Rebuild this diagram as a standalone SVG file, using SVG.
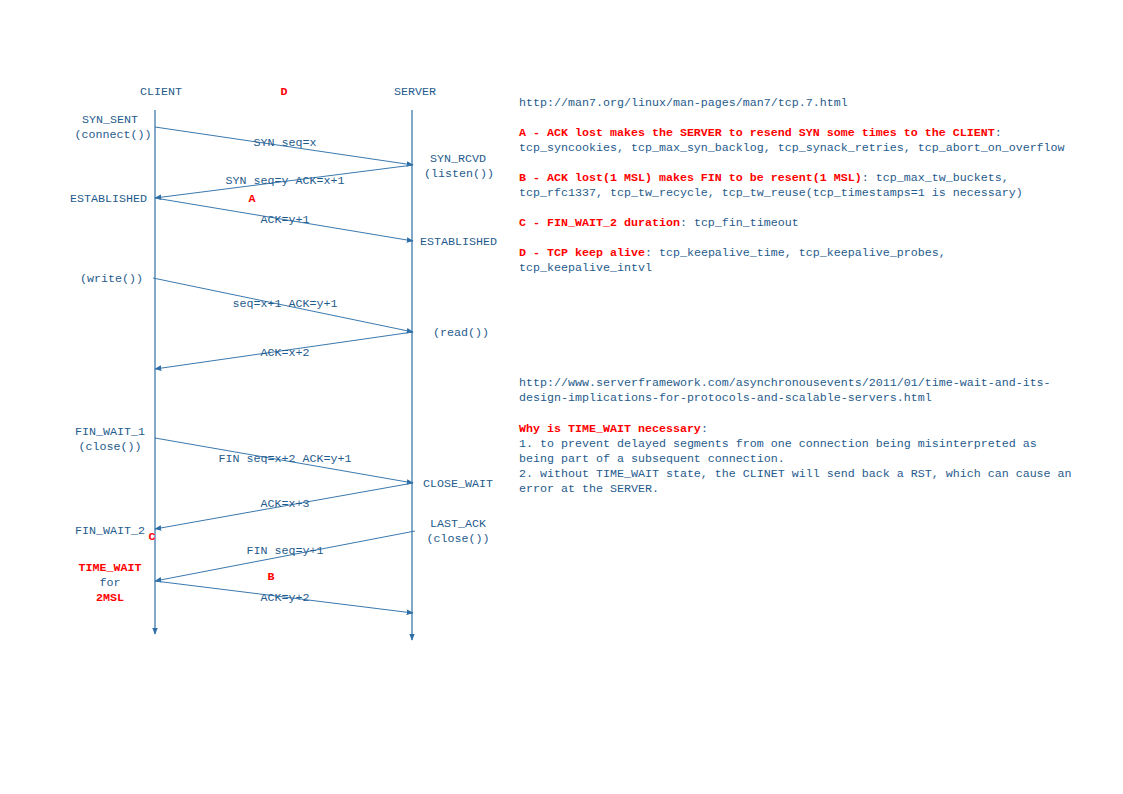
<svg xmlns="http://www.w3.org/2000/svg" width="1123" height="794" viewBox="0 0 1123 794">
<defs>
<marker id="ah" viewBox="0 0 10 10" refX="9" refY="5" markerWidth="7" markerHeight="7" orient="auto" markerUnits="userSpaceOnUse">
<path d="M0,1 L10,5 L0,9 z" fill="#2f6fa5"/>
</marker>
<style>
text{font-family:"Liberation Mono","DejaVu Sans Mono",monospace;font-size:11.67px;fill:#1f5b8c;}
.c{text-anchor:middle;}
.r{fill:#ff0000;font-weight:bold;}
.ln{stroke:#2f6fa5;stroke-width:1.2;fill:none;}
.ar{stroke:#3a78ae;stroke-width:1;fill:none;marker-end:url(#ah);}
</style>
</defs>
<rect width="1123" height="794" fill="#ffffff"/>
<g id="client">
<text class="c" x="161" y="95">CLIENT</text>
<line class="ln" x1="155" y1="110" x2="155" y2="634" marker-end="url(#ah)"/>
</g>
<g id="server">
<text class="c" x="415" y="95">SERVER</text>
<line class="ln" x1="412" y1="110" x2="412" y2="640" marker-end="url(#ah)"/>
</g>
<g id="connectors">
<line class="ar" x1="155" y1="127" x2="413" y2="165"/>
<line class="ar" x1="413" y1="165" x2="155" y2="198"/>
<line class="ar" x1="155" y1="198" x2="413" y2="241"/>
<line class="ar" x1="153" y1="278" x2="413" y2="332"/>
<line class="ar" x1="413" y1="332" x2="155" y2="369"/>
<line class="ar" x1="155" y1="438" x2="413" y2="483"/>
<line class="ar" x1="413" y1="483" x2="155" y2="529"/>
<line class="ar" x1="415" y1="531" x2="155" y2="581"/>
<line class="ar" x1="155" y1="581" x2="413" y2="613"/>
</g>
<g id="arrow-labels">
<text class="c" x="285" y="146">SYN seq=x</text>
<text class="c" x="285" y="184">SYN seq=y ACK=x+1</text>
<text class="c" x="285" y="223">ACK=y+1</text>
<text class="c" x="285" y="307">seq=x+1 ACK=y+1</text>
<text class="c" x="285" y="356">ACK=x+2</text>
<text class="c" x="285" y="462">FIN seq=x+2 ACK=y+1</text>
<text class="c" x="285" y="507">ACK=x+3</text>
<text class="c" x="285" y="554">FIN seq=y+1</text>
<text class="c" x="285" y="601">ACK=y+2</text>
</g>
<g id="client-states">
<text class="c" x="110" y="123">SYN_SENT</text>
<text class="c" x="113" y="138">(connect())</text>
<text x="70" y="202">ESTABLISHED</text>
<text x="80" y="282">(write())</text>
<text class="c" x="110" y="435">FIN_WAIT_1</text>
<text class="c" x="110" y="450">(close())</text>
<text x="75" y="534">FIN_WAIT_2</text>
<text class="c r" x="110" y="571">TIME_WAIT</text>
<text class="c" x="110" y="586">for</text>
<text class="c r" x="110" y="601">2MSL</text>
</g>
<g id="server-states">
<text class="c" x="458" y="162">SYN_RCVD</text>
<text class="c" x="459" y="177">(listen())</text>
<text x="420" y="245">ESTABLISHED</text>
<text x="433" y="336">(read())</text>
<text x="423" y="487">CLOSE_WAIT</text>
<text class="c" x="458" y="527">LAST_ACK</text>
<text class="c" x="458" y="542">(close())</text>
</g>
<g id="markers">
<text class="c r" x="284" y="95">D</text>
<text class="c r" x="252" y="202">A</text>
<text class="c r" x="152" y="540">C</text>
<text class="c r" x="271" y="580">B</text>
</g>
<g id="notes">
<text x="519" y="106">http://man7.org/linux/man-pages/man7/tcp.7.html</text>
<text x="519" y="136"><tspan class="r">A - ACK lost makes the SERVER to resend SYN some times to the CLIENT</tspan>:</text>
<text x="519" y="151">tcp_syncookies, tcp_max_syn_backlog, tcp_synack_retries, tcp_abort_on_overflow</text>
<text x="519" y="181"><tspan class="r">B - ACK lost(1 MSL) makes FIN to be resent(1 MSL)</tspan>: tcp_max_tw_buckets,</text>
<text x="519" y="196">tcp_rfc1337, tcp_tw_recycle, tcp_tw_reuse(tcp_timestamps=1 is necessary)</text>
<text x="519" y="226"><tspan class="r">C - FIN_WAIT_2 duration</tspan>: tcp_fin_timeout</text>
<text x="519" y="256"><tspan class="r">D - TCP keep alive</tspan>: tcp_keepalive_time, tcp_keepalive_probes,</text>
<text x="519" y="271">tcp_keepalive_intvl</text>
<text x="519" y="386">http://www.serverframework.com/asynchronousevents/2011/01/time-wait-and-its-</text>
<text x="519" y="401">design-implications-for-protocols-and-scalable-servers.html</text>
<text x="519" y="432"><tspan class="r">Why is TIME_WAIT necessary</tspan>:</text>
<text x="519" y="447">1. to prevent delayed segments from one connection being misinterpreted as</text>
<text x="519" y="462">being part of a subsequent connection.</text>
<text x="519" y="477">2. without TIME_WAIT state, the CLINET will send back a RST, which can cause an</text>
<text x="519" y="492">error at the SERVER.</text>
</g>
</svg>
